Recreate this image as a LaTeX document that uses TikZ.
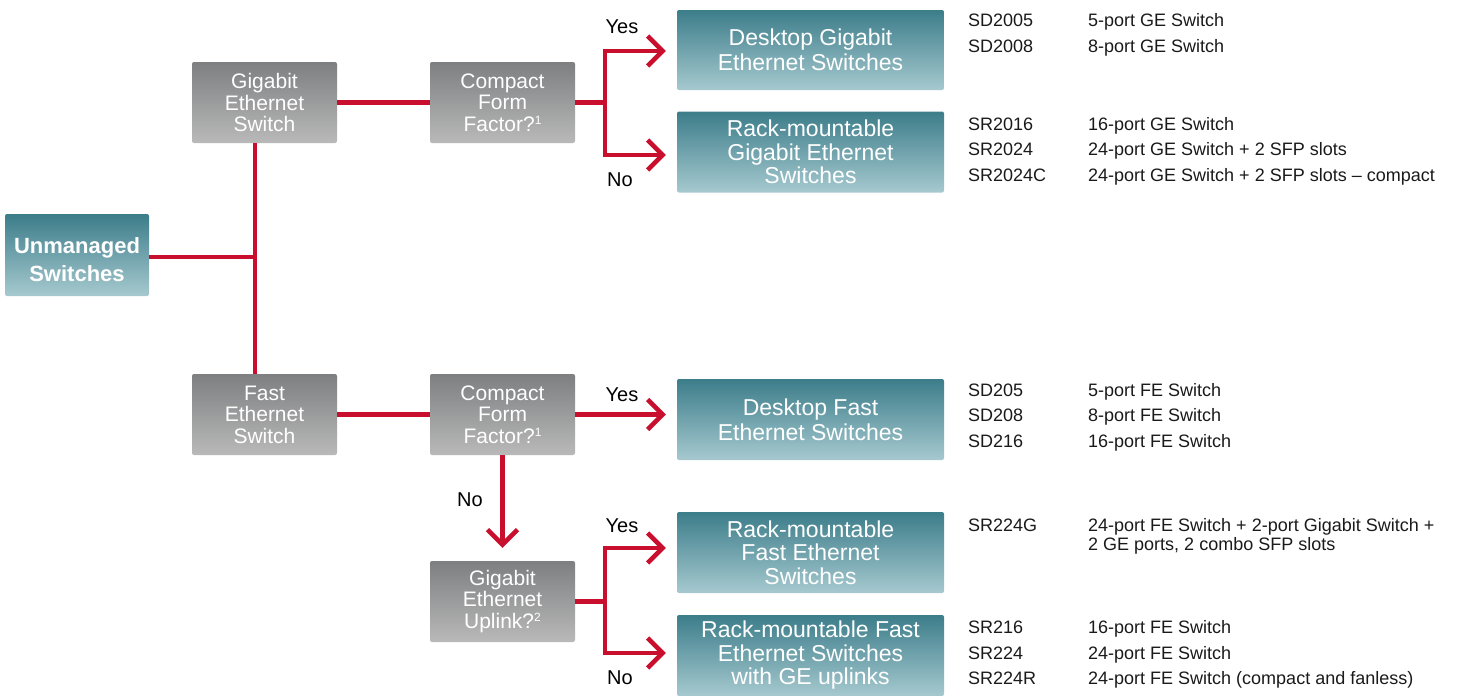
\documentclass[tikz,border=0pt]{standalone}
\usepackage{fontspec}
\setmainfont{Liberation Sans}
\usetikzlibrary{arrows.meta}
\definecolor{cred}{HTML}{C8102E}
\definecolor{tealtop}{HTML}{3C7D8A}
\definecolor{tealbot}{HTML}{A6C9CF}
\definecolor{greytop}{HTML}{7E7F81}
\definecolor{greybot}{HTML}{B9B9B9}
\definecolor{txt}{HTML}{1A1A1A}
\newcommand{\supnum}[1]{\raisebox{7pt}{\fontsize{12}{12}\selectfont #1}}
\begin{document}
\begin{tikzpicture}[x=1pt,y=-1pt,
  gbox/.style={rounded corners=2pt, top color=greytop, bottom color=greybot, minimum width=145pt, minimum height=81pt, inner sep=0pt, text=white, align=center, font=\fontsize{21}{21.5}\selectfont},
  tbox/.style={rounded corners=2pt, top color=tealtop, bottom color=tealbot, minimum width=267pt, minimum height=80pt, inner sep=0pt, text=white, align=center, font=\fontsize{23}{23.5}\selectfont},
  tbox2/.style={tbox, font=\fontsize{23}{25}\selectfont},
  ubox/.style={tbox, minimum width=144pt, minimum height=82pt},
  utext/.style={text=white, align=center, inner sep=0pt, font=\bfseries\fontsize{22}{28}\selectfont},
  conn/.style={draw=cred, line width=4.5pt, line join=miter},
  arr/.style={conn, -{Straight Barb[length=15pt,width=30pt]}, shorten >=11pt},
  lbl/.style={text=black, inner sep=0pt, font=\fontsize{20}{20}\selectfont},
  code/.style={anchor=base west, text=txt, inner sep=0pt, font=\fontsize{18}{18.5}\selectfont}
]
\useasboundingbox (0,0) rectangle (1460,696);

% boxes
\node[ubox] (um) at (77,255) {};
\node[utext] (umt) at (77,260) {Unmanaged\\Switches};
\node[gbox] (ges) at (264.5,102.5) {Gigabit\\Ethernet\\Switch};
\node[gbox] (fes) at (264.5,414.5) {Fast\\Ethernet\\Switch};
\node[gbox] (cf1) at (502.5,102.5) {Compact\\Form\\Factor?\supnum{1}};
\node[gbox] (cf2) at (502.5,414.5) {Compact\\Form\\Factor?\supnum{1}};
\node[gbox] (gu) at (502.5,601.5) {Gigabit\\Ethernet\\Uplink?\supnum{2}};
\node[tbox2] (dgs) at (810.5,50) {Desktop Gigabit\\Ethernet Switches};
\node[tbox, minimum height=81pt] (rgs) at (810.5,152) {Rack-mountable\\Gigabit Ethernet\\Switches};
\node[tbox2, minimum height=81pt] (dfs) at (810.5,419.5) {Desktop Fast\\Ethernet Switches};
\node[tbox, minimum height=81pt] (rfs) at (810.5,552.5) {Rack-mountable\\Fast Ethernet\\Switches};
\node[tbox, minimum height=81pt] (rfu) at (810.5,655.5) {Rack-mountable Fast\\Ethernet Switches\\with GE uplinks};

% junction coordinates
\coordinate (j) at (255,257);
\coordinate (b1) at (605,102.5);
\coordinate (y1) at (605,51);
\coordinate (n1) at (605,155);
\coordinate (b2) at (605,601.5);
\coordinate (y2) at (605,548);
\coordinate (n2) at (605,653);

% connectors
\draw[conn] (j |- ges.south) -- (j |- fes.north);
\draw[conn] (j -| um.east) -- (j);
\draw[conn] (ges.east) -- (cf1.west);
\draw[conn] (fes.east) -- (cf2.west);
\draw[conn] (cf1.east) -- (b1);
\draw[arr] (b1) -- (y1) -- (y1 -| dgs.west);
\draw[arr] (b1) -- (n1) -- (n1 -| rgs.west);
\draw[arr] (cf2.east) -- (cf2.east -| dfs.west);
\draw[arr, shorten >=0pt] (cf2.south) -- ([yshift=13pt]gu.north);
\draw[conn] (gu.east) -- (b2);
\draw[arr] (b2) -- (y2) -- (y2 -| rfs.west);
\draw[arr] (b2) -- (n2) -- (n2 -| rfu.west);

% branch labels
\node[lbl] (l1) at (622,27) {Yes};
\node[lbl] (l2) at (620,180) {No};
\node[lbl] (l3) at (622,395) {Yes};
\node[lbl] (l4) at (470,500) {No};
\node[lbl] (l5) at (622,526) {Yes};
\node[lbl] (l6) at (620,678) {No};

% model lists
\node[code] (c1) at (968,27) {SD2005};
\node[code] (d1) at (1088,27) {5-port GE Switch};
\node[code] (c2) at (968,52) {SD2008};
\node[code] (d2) at (1088,52) {8-port GE Switch};
\node[code] (c3) at (968,130) {SR2016};
\node[code] (d3) at (1088,130) {16-port GE Switch};
\node[code] (c4) at (968,155) {SR2024};
\node[code] (d4) at (1088,155) {24-port GE Switch + 2 SFP slots};
\node[code] (c5) at (968,181) {SR2024C};
\node[code] (d5) at (1088,181) {24-port GE Switch + 2 SFP slots – compact};
\node[code] (c6) at (968,396) {SD205};
\node[code] (d6) at (1088,396) {5-port FE Switch};
\node[code] (c7) at (968,421) {SD208};
\node[code] (d7) at (1088,421) {8-port FE Switch};
\node[code] (c8) at (968,447) {SD216};
\node[code] (d8) at (1088,447) {16-port FE Switch};
\node[code] (c9) at (968,531) {SR224G};
\node[code] (d9) at (1088,531) {24-port FE Switch + 2-port Gigabit Switch +};
\node[code] (d9b) at (1088,550) {2 GE ports, 2 combo SFP slots};
\node[code] (c10) at (968,633) {SR216};
\node[code] (d10) at (1088,633) {16-port FE Switch};
\node[code] (c11) at (968,659) {SR224};
\node[code] (d11) at (1088,659) {24-port FE Switch};
\node[code] (c12) at (968,684) {SR224R};
\node[code] (d12) at (1088,684) {24-port FE Switch (compact and fanless)};
\end{tikzpicture}
\end{document}
